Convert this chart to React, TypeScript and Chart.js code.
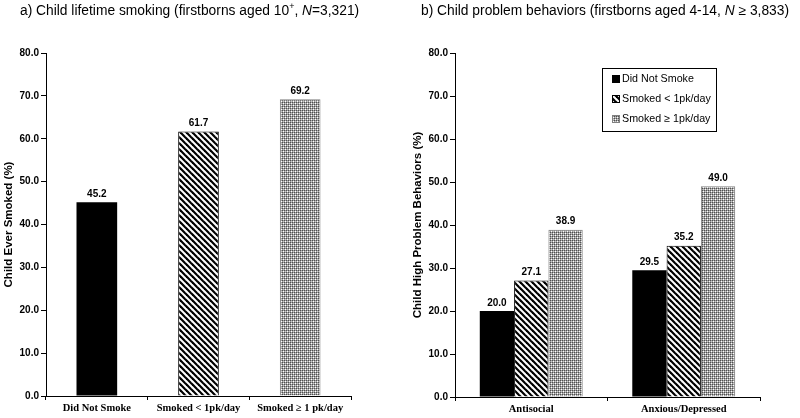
import React, { useEffect, useRef } from 'react';
import { Chart, registerables } from 'chart.js';

Chart.register(...registerables);

const FONT = "'Liberation Sans', Arial, Helvetica, sans-serif";
const SERIF = "'Liberation Serif', 'Times New Roman', serif";

// ---- data ----
const smokingCategories = ['Did Not Smoke', 'Smoked < 1pk/day', 'Smoked \u2265 1 pk/day'];
const smokingValues = [45.2, 61.7, 69.2];

const behaviorCategories = ['Antisocial', 'Anxious/Depressed'];
const seriesNames = ['Did Not Smoke', 'Smoked < 1pk/day', 'Smoked \u2265 1pk/day'];
const didNotSmokeValues = [20.0, 29.5];
const smokedLessValues = [27.1, 35.2];
const smokedMoreValues = [38.9, 49.0];

const yMin = 0;
const yMax = 80;
const yStep = 10;

const yTitleA = 'Child Ever Smoked (%)';
const yTitleB = 'Child High Problem Behaviors (%)';

type Seg = { t: string; italic?: boolean; sup?: boolean };
const titleA: Seg[] = [
  { t: 'a) Child lifetime smoking (firstborns aged 10' },
  { t: '+', sup: true },
  { t: ', ' },
  { t: 'N', italic: true },
  { t: '=3,321)' },
];
const titleB: Seg[] = [
  { t: 'b) Child problem behaviors (firstborns aged 4-14, ' },
  { t: 'N', italic: true },
  { t: ' \u2265 3,833)' },
];

// ---- patterns ----
function makeStripes(): CanvasPattern | string {
  const c = document.createElement('canvas');
  c.width = 6;
  c.height = 6;
  const g = c.getContext('2d');
  if (!g) return '#888';
  g.fillStyle = '#fff';
  g.fillRect(0, 0, 6, 6);
  g.strokeStyle = '#000';
  g.lineWidth = 2.2;
  for (const x0 of [-6, 0, 6]) {
    g.beginPath();
    g.moveTo(x0 - 1, -1);
    g.lineTo(x0 + 7, 7);
    g.stroke();
  }
  return g.createPattern(c, 'repeat') || '#888';
}

function makeChecks(): CanvasPattern | string {
  const c = document.createElement('canvas');
  c.width = 4;
  c.height = 4;
  const g = c.getContext('2d');
  if (!g) return '#9e9e9e';
  const D = '#505050', M = '#a0a0a0', W = '#ffffff', L = '#d0d0d0';
  const rows = [
    [D, M, D, M],
    [M, W, M, L],
    [D, M, D, M],
    [M, L, M, W],
  ];
  rows.forEach((r, y) => r.forEach((col, x) => { g.fillStyle = col; g.fillRect(x, y, 1, 1); }));
  return g.createPattern(c, 'repeat') || '#9e9e9e';
}

// ---- plugins ----
function richTitle(segs: Seg[], x: number, y: number, size: number) {
  return {
    id: 'richTitle',
    afterDraw(chart: any) {
      const ctx = chart.ctx as CanvasRenderingContext2D;
      ctx.save();
      ctx.textBaseline = 'middle';
      ctx.textAlign = 'left';
      ctx.fillStyle = '#000';
      let cx = x;
      for (const s of segs) {
        const sz = s.sup ? size * 0.65 : size;
        ctx.font = `${s.italic ? 'italic ' : ''}${sz}px ${FONT}`;
        ctx.fillText(s.t, cx, s.sup ? y - size * 0.3 : y);
        cx += ctx.measureText(s.t).width;
      }
      ctx.restore();
    },
  };
}

const valueLabels = {
  id: 'valueLabels',
  afterDatasetsDraw(chart: any) {
    const ctx = chart.ctx as CanvasRenderingContext2D;
    ctx.save();
    ctx.font = `bold 10px ${FONT}`;
    ctx.textAlign = 'center';
    ctx.textBaseline = 'middle';
    ctx.fillStyle = '#000';
    chart.data.datasets.forEach((ds: any, i: number) => {
      const meta = chart.getDatasetMeta(i);
      meta.data.forEach((el: any, j: number) => {
        const v = Number(ds.data[j]);
        ctx.fillText(v.toFixed(1), el.x, el.y - 8);
      });
    });
    ctx.restore();
  },
};

const boxLegend = {
  id: 'boxLegend',
  afterDraw(chart: any) {
    const ctx = chart.ctx as CanvasRenderingContext2D;
    ctx.save();
    ctx.strokeStyle = '#000';
    ctx.lineWidth = 1;
    ctx.strokeRect(202.5, 68.5, 114, 63);
    ctx.font = `10.7px ${FONT}`;
    ctx.textAlign = 'left';
    ctx.textBaseline = 'middle';
    chart.data.datasets.forEach((ds: any, i: number) => {
      const cy = 79 + i * 20;
      ctx.fillStyle = ds.backgroundColor;
      ctx.fillRect(212, cy - 4, 8, 8);
      if (ds.borderWidth) {
        ctx.strokeStyle = ds.borderColor;
        ctx.strokeRect(212.5, cy - 3.5, 7, 7);
      }
      ctx.fillStyle = '#000';
      ctx.fillText(ds.label, 222, cy + 0.5);
    });
    ctx.restore();
  },
};

function makeScales(yTitle: string, yWidth: number, titlePad: number, xHeight: number) {
  return {
    x: {
      grid: { display: true, drawOnChartArea: false, drawTicks: true, tickLength: 4, color: '#000', offset: true, lineWidth: 1 },
      border: { display: true, color: '#000', width: 1 },
      ticks: { color: '#000', font: { family: SERIF, size: 10.5, weight: 'bold' }, padding: 2, maxRotation: 0, autoSkip: false },
      afterFit: (s: any) => { s.height = xHeight; },
    },
    y: {
      min: yMin,
      max: yMax,
      grid: { display: true, drawOnChartArea: false, drawTicks: true, tickLength: 5, color: '#000', lineWidth: 1 },
      border: { display: true, color: '#000', width: 1 },
      ticks: {
        stepSize: yStep,
        callback: (v: any) => Number(v).toFixed(1),
        color: '#000',
        font: { family: FONT, size: 10, weight: 'bold' },
        padding: 2,
      },
      title: {
        display: true,
        text: yTitle,
        color: '#000',
        font: { family: FONT, size: 11.5, weight: 'bold' },
        padding: { top: titlePad, bottom: 0 },
      },
      afterFit: (s: any) => { s.width = yWidth; },
    },
  };
}

export default function App() {
  const refA = useRef<HTMLCanvasElement>(null);
  const refB = useRef<HTMLCanvasElement>(null);

  useEffect(() => {
    const black = '#000000';
    const stripes = makeStripes();
    const checks = makeChecks();

    const chartA = new Chart(refA.current as HTMLCanvasElement, {
      type: 'bar',
      data: {
        labels: smokingCategories,
        datasets: [
          {
            label: 'Child ever smoked',
            data: smokingValues,
            backgroundColor: [black, stripes, checks] as any,
            borderColor: [black, '#000', '#808080'],
            borderWidth: [0, 1, 1] as any,
            barPercentage: 0.4,
            categoryPercentage: 1.0,
          },
        ],
      },
      options: {
        animation: false,
        responsive: false,
        devicePixelRatio: 1,
        layout: { padding: { top: 53, right: 49, left: 0, bottom: 0 } },
        plugins: { legend: { display: false }, tooltip: { enabled: false }, title: { display: false } },
        scales: makeScales(yTitleA, 46, 2, 22) as any,
      },
      plugins: [valueLabels, richTitle(titleA, 20, 11, 13.8)],
    });

    const chartB = new Chart(refB.current as HTMLCanvasElement, {
      type: 'bar',
      data: {
        labels: behaviorCategories,
        datasets: [
          { label: seriesNames[0], data: didNotSmokeValues, backgroundColor: black as any, borderColor: black, borderWidth: 0, barPercentage: 1.0, categoryPercentage: 0.675 },
          { label: seriesNames[1], data: smokedLessValues, backgroundColor: stripes as any, borderColor: '#000', borderWidth: 1, barPercentage: 1.0, categoryPercentage: 0.675 },
          { label: seriesNames[2], data: smokedMoreValues, backgroundColor: checks as any, borderColor: '#808080', borderWidth: 1, barPercentage: 1.0, categoryPercentage: 0.675 },
        ],
      },
      options: {
        animation: false,
        responsive: false,
        devicePixelRatio: 1,
        layout: { padding: { top: 53, right: 40, left: 0, bottom: 0 } },
        plugins: { legend: { display: false }, tooltip: { enabled: false }, title: { display: false } },
        scales: makeScales(yTitleB, 55, 11, 21) as any,
      },
      plugins: [valueLabels, boxLegend, richTitle(titleB, 21, 11, 13.8)],
    });

    return () => {
      chartA.destroy();
      chartB.destroy();
    };
  }, []);

  return (
    <div style={{ position: 'absolute', left: 0, top: 0, width: 800, height: 418, background: '#fff', display: 'flex' }}>
      <canvas ref={refA} width={400} height={418} style={{ width: 400, height: 418, display: 'block' }} />
      <canvas ref={refB} width={400} height={418} style={{ width: 400, height: 418, display: 'block' }} />
    </div>
  );
}
